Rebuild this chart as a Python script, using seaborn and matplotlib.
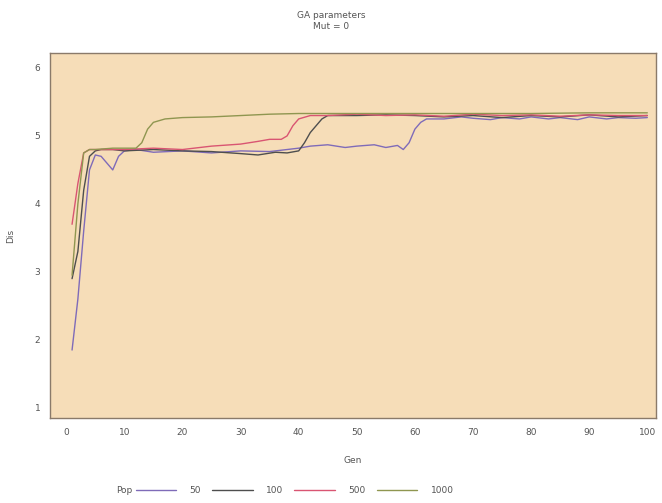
import matplotlib
matplotlib.use("Agg")
import matplotlib.pyplot as plt
import pandas as pd
import seaborn as sns

# Best distance per generation for each population size (mutation = 0)
gen_50 = [1, 2, 3, 4, 5, 6, 7, 8, 9, 10, 12, 15, 20, 25, 30, 35, 38, 40, 42, 45, 48, 50, 53, 55, 57, 58, 59, 60, 61, 62, 65, 68, 70, 73, 75, 78, 80, 83, 85, 88, 90, 93, 95, 98, 100]
dis_50 = [1.85, 2.6, 3.6, 4.5, 4.72, 4.7, 4.6, 4.5, 4.7, 4.78, 4.8, 4.76, 4.78, 4.75, 4.78, 4.77, 4.8, 4.82, 4.85, 4.87, 4.83, 4.85, 4.87, 4.83, 4.86, 4.8, 4.9, 5.1, 5.2, 5.25, 5.25, 5.28, 5.26, 5.24, 5.27, 5.25, 5.28, 5.25, 5.27, 5.24, 5.28, 5.25, 5.27, 5.26, 5.27]

gen_100 = [1, 2, 3, 4, 5, 6, 8, 10, 15, 20, 25, 30, 33, 36, 38, 40, 41, 42, 43, 44, 45, 50, 55, 60, 65, 70, 75, 80, 85, 90, 95, 100]
dis_100 = [2.9, 3.3, 4.2, 4.7, 4.78, 4.8, 4.8, 4.78, 4.8, 4.78, 4.77, 4.74, 4.72, 4.76, 4.75, 4.78, 4.9, 5.05, 5.15, 5.25, 5.3, 5.3, 5.31, 5.3, 5.28, 5.3, 5.27, 5.3, 5.28, 5.31, 5.28, 5.3]

gen_500 = [1, 2, 3, 4, 6, 10, 15, 20, 25, 30, 33, 35, 37, 38, 39, 40, 42, 45, 50, 55, 60, 65, 70, 75, 80, 85, 90, 95, 100]
dis_500 = [3.7, 4.3, 4.75, 4.8, 4.8, 4.8, 4.82, 4.8, 4.85, 4.88, 4.92, 4.95, 4.95, 5.0, 5.15, 5.25, 5.3, 5.3, 5.32, 5.3, 5.31, 5.29, 5.32, 5.3, 5.31, 5.29, 5.31, 5.3, 5.3]

gen_1000 = [1, 2, 3, 4, 5, 8, 10, 12, 13, 14, 15, 17, 20, 25, 30, 35, 40, 50, 60, 70, 80, 90, 100]
dis_1000 = [2.95, 4.0, 4.75, 4.8, 4.8, 4.82, 4.82, 4.82, 4.9, 5.1, 5.2, 5.25, 5.27, 5.28, 5.3, 5.32, 5.33, 5.33, 5.33, 5.33, 5.33, 5.34, 5.34]

pop_labels = ["50", "100", "500", "1000"]
x_ticks = [0, 10, 20, 30, 40, 50, 60, 70, 80, 90, 100]
y_ticks = [1, 2, 3, 4, 5, 6]

frames = []
for lab, g, d in zip(pop_labels, [gen_50, gen_100, gen_500, gen_1000],
                     [dis_50, dis_100, dis_500, dis_1000]):
    frames.append(pd.DataFrame({"Gen": g, "Dis": d, "Pop": lab}))
df = pd.concat(frames, ignore_index=True)

sns.set_theme(style="white")
plt.rcParams["font.family"] = ["DejaVu Sans"]
text_col = "#555555"

fig = plt.figure(figsize=(6.62, 5.03), dpi=100)
ax = fig.add_axes([0.0755, 0.169, 0.9155, 0.7256])
ax.set_facecolor("#F6DDB8")

palette = {"50": "#7F6BB8", "100": "#4E4E4E", "500": "#D95572", "1000": "#8F9650"}
sns.lineplot(data=df, x="Gen", y="Dis", hue="Pop", hue_order=pop_labels,
             palette=palette, linewidth=1.0, ax=ax, estimator=None, sort=False)

ax.set_xlim(-2.8, 101.5)
ax.set_ylim(0.85, 6.22)
ax.set_xticks(x_ticks)
ax.set_yticks(y_ticks)
ax.tick_params(axis="both", direction="out", length=4, width=0.8,
               colors="#8a7a6a", labelcolor=text_col, labelsize=6.5, pad=3)
for s in ax.spines.values():
    s.set_color("#8a7a6a")
    s.set_linewidth(1.0)
ax.set_xlabel("Gen", fontsize=6.5, color=text_col, labelpad=14)
ax.set_ylabel("Dis", fontsize=6.5, color=text_col, labelpad=14)

fig.text(0.5, 0.97, "GA parameters", ha="center", va="center", fontsize=6.5, color=text_col)
fig.text(0.5, 0.947, "Mut = 0", ha="center", va="center", fontsize=6.5, color=text_col)

handles, labels = ax.get_legend_handles_labels()
ax.get_legend().remove()
fig.text(0.175, 0.025, "Pop", ha="left", va="center", fontsize=6.5, color=text_col)
fig.legend(handles, labels, ncol=4, frameon=False, loc="center",
           bbox_to_anchor=(0.445, 0.025), fontsize=6.5, labelcolor=text_col,
           handlelength=4.5, columnspacing=1.2, handletextpad=1.5)

fig.savefig("out.png", dpi=100, facecolor="white")
